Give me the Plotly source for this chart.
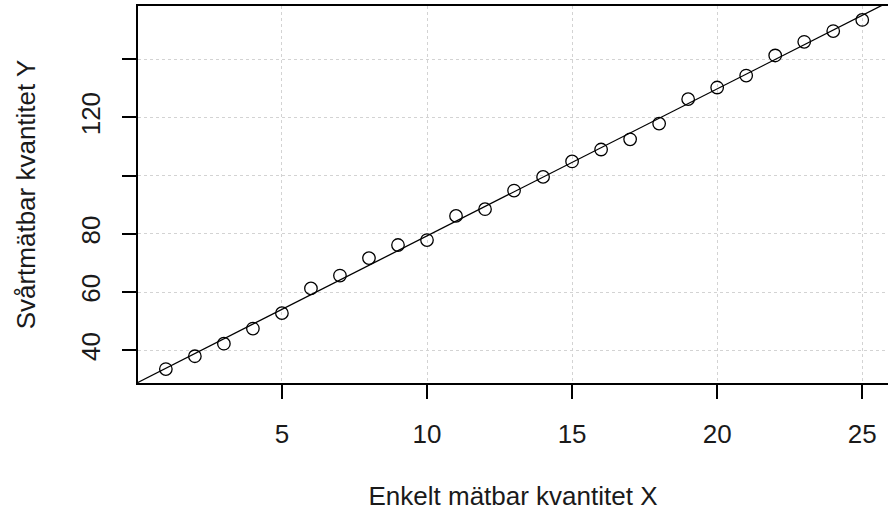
import numpy as np
import plotly.graph_objects as go

# Measurements: easy-to-measure X against hard-to-measure Y
x_vals = list(range(1, 26))
y_vals = [33.6, 38.0, 42.3, 47.5, 52.8, 61.3, 65.7, 71.7, 76.2, 77.9,
          86.2, 88.5, 94.9, 99.6, 104.9, 109.0, 112.5, 117.9, 126.3, 130.3,
          134.4, 141.3, 146.0, 149.7, 153.5]

x_ticks = [5, 10, 15, 20, 25]
y_ticks = [40, 60, 80, 100, 120, 140]
y_tick_text = ["40", "60", "80", "", "120", ""]

x_title = "Enkelt mätbar kvantitet X"
y_title = "Svårtmätbar kvantitet Y"

FONT = "Liberation Sans, Arial, sans-serif"
GRID = "#d3d3d3"


def padded(lo, hi, frac=0.04):
    span = hi - lo
    return [lo - frac * span, hi + frac * span]


x_rng = padded(min(x_vals), max(x_vals))
y_rng = padded(min(y_vals), max(y_vals))
# the plotting window ends just short of the padded right limit
x_rng[1] = x_rng[0] + (x_rng[1] - x_rng[0]) * 749.6 / 751.7

# least-squares line through the measurements
slope, intercept = np.polyfit(x_vals, y_vals, 1)
line_x = [x_rng[0] - 1, x_rng[1] + 1]
line_y = [intercept + slope * v for v in line_x]

fig = go.Figure()
fig.add_trace(go.Scatter(
    x=line_x, y=line_y, mode="lines",
    line=dict(color="black", width=1.3),
    hoverinfo="skip", showlegend=False,
))
fig.add_trace(go.Scatter(
    x=x_vals, y=y_vals, mode="markers",
    marker=dict(symbol="circle-open", size=12.5, color="black",
                line=dict(color="black", width=1.3)),
    showlegend=False,
))

fig.update_layout(
    width=888, height=511,
    margin=dict(l=138, r=0, t=6, b=128),
    paper_bgcolor="white", plot_bgcolor="white",
    font=dict(family=FONT, size=26, color="#1a1a1a"),
)
fig.update_xaxes(
    range=x_rng, tickvals=x_ticks, ticktext=[str(v) for v in x_ticks],
    showgrid=True, gridcolor=GRID, griddash="3px,3px", gridwidth=1,
    zeroline=False, showline=True, linecolor="black", linewidth=2,
    mirror=True, ticks="outside", ticklen=14, tickwidth=2, tickcolor="black",
    ticklabelstandoff=13,
    title=dict(text=x_title, standoff=42, font=dict(size=26)),
)
fig.update_yaxes(
    range=y_rng, tickvals=y_ticks, ticktext=y_tick_text, tickangle=-90,
    showgrid=True, gridcolor=GRID, griddash="3px,3px", gridwidth=1,
    zeroline=False, showline=True, linecolor="black", linewidth=2,
    mirror=False, ticks="outside", ticklen=14, tickwidth=2, tickcolor="black",
    ticklabelstandoff=12,
    title=dict(text=y_title, standoff=32, font=dict(size=26)),
)

fig.write_html("out.html")
